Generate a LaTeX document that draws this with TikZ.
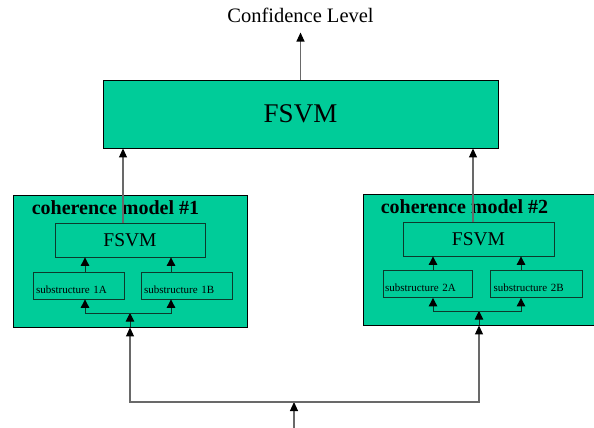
\documentclass[tikz,border=0pt]{standalone}
\usepackage{fontspec}
\setmainfont{Liberation Serif}
\usetikzlibrary{positioning,calc,arrows.meta}

\definecolor{svmgreen}{RGB}{0,204,153}
\definecolor{innerline}{RGB}{12,58,44}
\definecolor{wiregray}{RGB}{105,105,105}

\begin{document}
\begin{tikzpicture}[x=1pt, y=-1pt,
    block/.style={rectangle, draw=black, line width=0.9pt, fill=svmgreen, inner sep=0pt},
    inbox/.style={rectangle, draw=innerline, line width=0.8pt, inner sep=0pt},
    subbox/.style={inbox, minimum height=27pt, text width=85pt, align=left,
        text height=16pt, text depth=1pt, font=\fontsize{11}{12}\selectfont},
    arr/.style={-{Triangle[length=9pt,width=8pt,black]}, line width=1.1pt, draw=wiregray},
    inarr/.style={-{Triangle[length=8.5pt,width=8.5pt,black]}, line width=0.9pt, draw=innerline},
    title/.style={anchor=base west, inner sep=0pt, font=\fontsize{20}{22}\selectfont\bfseries}]
    \useasboundingbox (0,0) rectangle (594,428);

    %-----Top level-----

    % top FSVM
    \node [block, minimum width=395pt, minimum height=68pt,
        font=\fontsize{27}{30}\selectfont] (top) at (300.5,114) {FSVM};

    % output
    \node [above=47pt of top, inner sep=10pt, font=\fontsize{20.5}{23}\selectfont] (conf) {Confidence Level};

    %-----Coherence models-----

    % coherence model #1
    \node [block, minimum width=234pt, minimum height=132pt] (cm1) at (130,261) {};
    \node [title] (t1) at ([shift={(19,20)}]cm1.north west) {coherence model \#1};
    \node [inbox, minimum width=150pt, minimum height=34pt,
        font=\fontsize{19.5}{22}\selectfont] (f1) at (130,240) {FSVM};
    \node [subbox, minimum width=91pt] (s1a) at (78.5,285.5) {substructure 1A};
    \node [subbox, minimum width=91pt] (s1b) at (186.5,285.5) {substructure 1B};
    \coordinate (bus1) at (130,313);

    % coherence model #2
    \node [block, minimum width=232pt, minimum height=131pt] (cm2) at (479,259.5) {};
    \node [title] (t2) at ([shift={(18,20)}]cm2.north west) {coherence model \#2};
    \node [inbox, minimum width=151pt, minimum height=34pt,
        font=\fontsize{19.5}{22}\selectfont] (f2) at (478.5,239) {FSVM};
    \node [subbox, minimum width=89pt] (s2a) at (427.5,284) {substructure 2A};
    \node [subbox, minimum width=92pt] (s2b) at (536,284) {substructure 2B};
    \coordinate (bus2) at (479,311);

    % input
    \coordinate (in) at (294,430);
    \coordinate (obus) at (294,402);

    %-----Connections-----

    \draw[arr] (top.north) -- (conf.south);
    \draw[arr] ([xshift=-7pt]f1.north) -- ([xshift=-7pt]f1.north |- top.south);
    \draw[arr] ([xshift=-5.5pt]f2.north) -- ([xshift=-5.5pt]f2.north |- top.south);

    % inside model #1
    \draw[inarr] ([xshift=6.5pt]s1a.north) -- ([xshift=6.5pt]s1a.north |- f1.south);
    \draw[inarr] ([xshift=-15.5pt]s1b.north) -- ([xshift=-15.5pt]s1b.north |- f1.south);
    \draw[inarr] (cm1.south) -- (bus1);
    \draw[inarr] (bus1) -| ([xshift=6.5pt]s1a.south);
    \draw[inarr] (bus1) -| ([xshift=-15.5pt]s1b.south);

    % inside model #2
    \draw[inarr] ([xshift=5.5pt]s2a.north) -- ([xshift=5.5pt]s2a.north |- f2.south);
    \draw[inarr] ([xshift=-15pt]s2b.north) -- ([xshift=-15pt]s2b.north |- f2.south);
    \draw[inarr] (cm2.south) -- (bus2);
    \draw[inarr] (bus2) -| ([xshift=5.5pt]s2a.south);
    \draw[inarr] (bus2) -| ([xshift=-15pt]s2b.south);

    % input to both models
    \draw[arr] (in) -- (obus);
    \draw[arr] (obus) -| (cm1.south);
    \draw[arr] (obus) -| (cm2.south);

\end{tikzpicture}
\end{document}
